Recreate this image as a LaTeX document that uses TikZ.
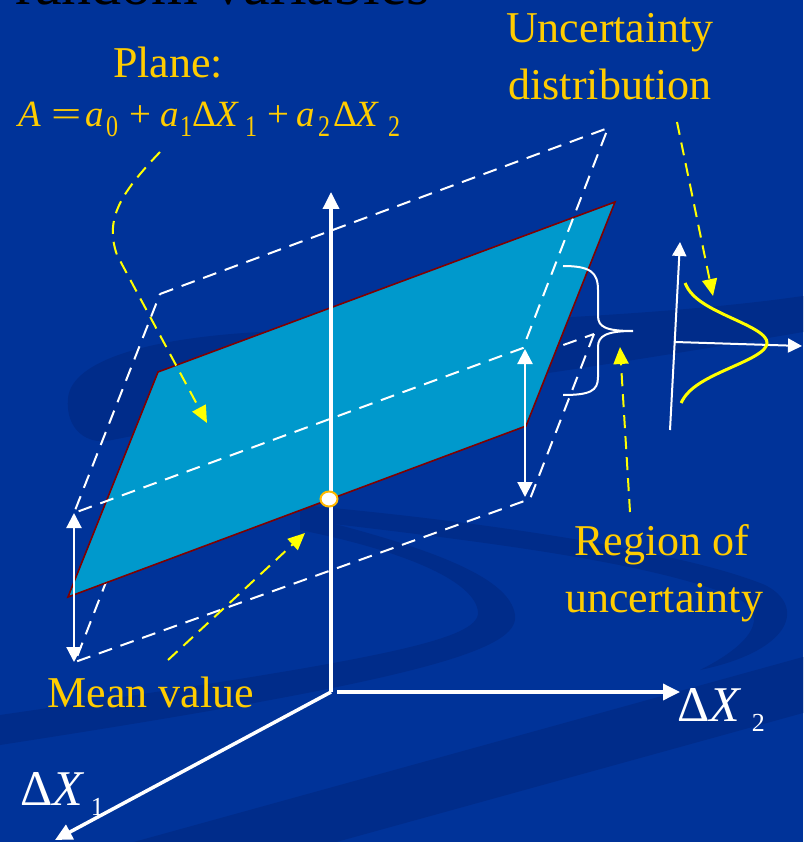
\documentclass[tikz,border=0pt]{standalone}
\usepackage{fontspec}
\usepackage{graphicx}
\setmainfont{Liberation Serif}
\usetikzlibrary{arrows.meta}
\definecolor{bg}{RGB}{0,51,153}
\definecolor{bgdark}{RGB}{0,44,138}
\definecolor{planefill}{RGB}{0,153,204}
\definecolor{planeedge}{RGB}{128,0,0}
\definecolor{ytext}{RGB}{255,204,0}
\definecolor{yarrow}{RGB}{255,255,0}
\definecolor{gold}{RGB}{255,185,0}
\newcommand{\eqat}[2]{\rlap{\hspace{#1pt}#2}}
\newcommand{\eqsub}[1]{\raisebox{-10pt}{\scalebox{0.8}[1]{\fontsize{30}{30}\selectfont #1}}}
\newcommand{\axsub}[1]{\raisebox{-10pt}{\fontsize{26}{26}\selectfont #1}}
\begin{document}
\begin{tikzpicture}[x=1pt,y=-1pt,
  wdash/.style={white, line width=2pt, dash pattern=on 14pt off 9pt},
  ydasharrow/.style={yarrow, line width=2pt, dash pattern=on 13pt off 8pt, -{Triangle[width=15pt,length=17pt]}},
  axisarrow/.style={white, line width=3.5pt, -{Triangle[width=16pt,length=17pt]}},
  dblarrow/.style={white, line width=2.2pt, {Triangle[width=15pt,length=15pt]}-{Triangle[width=15pt,length=15pt]}},
  chartarrow/.style={white, line width=2pt, -{Triangle[width=14pt,length=14pt]}},
  swoosh/.style={bgdark},
  ylabel/.style={text=ytext, font=\fontsize{44}{50}\selectfont, inner sep=0pt, anchor=base},
  wlabel/.style={text=white, font=\fontsize{50}{56}\selectfont, inner sep=0pt, anchor=base west}
]
\useasboundingbox (0,0) rectangle (803,842);
% background
\fill[bg] (0,0) rectangle (803,842);
\begin{scope}
\clip (0,0) rectangle (803,842);
\fill[swoosh] (803,296) .. controls (650,318) and (450,322) .. (260,332)
   .. controls (150,338) and (72,360) .. (68,398)
   .. controls (65,430) and (88,446) .. (112,440)
   .. controls (260,410) and (480,388) .. (803,332) -- cycle;
\fill[swoosh] (300,505) .. controls (470,520) and (680,550) .. (765,585)
   .. controls (805,605) and (795,650) .. (700,670)
   .. controls (760,640) and (770,610) .. (730,595)
   .. controls (640,560) and (470,540) .. (300,520) -- cycle;
\fill[swoosh] (300,515) .. controls (420,545) and (510,575) .. (515,615)
   .. controls (520,650) and (420,680) .. (0,745) -- (0,715)
   .. controls (380,660) and (480,640) .. (478,612)
   .. controls (475,580) and (400,550) .. (300,530) -- cycle;
\fill[swoosh] (0,879) -- (803,657) -- (803,713) -- (0,935) -- cycle;
\end{scope}

% title remnant
\node[anchor=base west, inner sep=0pt, text=black, font=\fontsize{60}{66}\selectfont] (title) at (15,5) {random variables};

% lower dashed plane (behind)
\coordinate (lTL) at (139,497);
\coordinate (lTR) at (594,334);
\coordinate (lBR) at (530,499);
\coordinate (lBL) at (75,662);
\draw[wdash] (lTR) -- (lBR) -- (lBL) -- (lTL) -- cycle;

% plane
\coordinate (pTL) at (158,372);
\coordinate (pTR) at (615,202);
\coordinate (pBR) at (526,426);
\coordinate (pBL) at (68,597);
\fill[planefill] (pTL) -- (pTR) -- (pBR) -- (pBL) -- cycle;
\draw[planeedge, line width=1.6pt, line join=miter] (pTL) -- (pTR) -- (pBR) -- (pBL) -- cycle;

% upper dashed plane (in front)
\coordinate (uTL) at (160,294);
\coordinate (uTR) at (608,128);
\coordinate (uBR) at (523,348);
\coordinate (uBL) at (74,513);
\draw[wdash] (uTL) -- (uTR) -- (uBR) -- (uBL) -- cycle;

% axes
\coordinate (O) at (331,692);
\coordinate (Zt) at (331,192);
\coordinate (Xs) at (337,692);
\coordinate (Xt) at (680,692);
\coordinate (Yt) at (55,840);
\draw[axisarrow] (O) -- (Zt);
\draw[axisarrow] (Xs) -- (Xt);
\draw[axisarrow] (O) -- (Yt);

% double arrows
\coordinate (la) at (74,513);
\coordinate (lb) at (74,662);
\coordinate (ra) at (525,349);
\coordinate (rb) at (525,497);
\draw[dblarrow] (la) -- (lb);
\draw[dblarrow] (ra) -- (rb);

% mean value point
\draw[fill=white, draw=gold, line width=2pt] (329,499) ellipse (8.5 and 7.5);

% brace
\draw[white, line width=2pt] (563,266) .. controls (590,266) and (598,272) .. (598,290)
  -- (598,316) .. controls (598,327) and (606,331) .. (633,331)
  .. controls (606,331) and (598,336) .. (598,347)
  -- (598,377) .. controls (598,391) and (590,395) .. (563,395);

% small distribution chart
\coordinate (cv0) at (670,430);
\coordinate (cv1) at (680,242);
\coordinate (ch0) at (675,342);
\coordinate (ch1) at (802,346);
\draw[chartarrow] (cv0) -- (cv1);
\draw[chartarrow] (ch0) -- (ch1);
\draw[yarrow, line width=3pt] plot[smooth, domain=-1:1, samples=41]
  ({679 - 2*\x + 88*exp(-1*(1.75*\x)*(1.75*\x))}, {343 + 60*\x});

% labels
\node[ylabel] (plane) at (168,78) {Plane:};
\node[anchor=base west, inner sep=0pt, text=ytext, font=\fontsize{37}{40}\selectfont] (eq) at (18,127)
  {\makebox[382pt][l]{\eqat{0}{\itshape A}\eqat{33}{\scalebox{1.45}[1]{=}}\eqat{67}{\itshape a}\eqat{88}{\eqsub{0}}%
   \eqat{111}{\scalebox{1.05}[1]{+}}\eqat{142}{\itshape a}\eqat{162}{\eqsub{1}}\eqat{174}{Δ}\eqat{197}{\itshape X}\eqat{227}{\eqsub{1}}%
   \eqat{249}{\scalebox{1.05}[1]{+}}\eqat{278}{\itshape a}\eqat{300}{\eqsub{2}}\eqat{315}{Δ}\eqat{337}{\itshape X}\eqat{370}{\eqsub{2}}}};
\node[ylabel] (unc1) at (610,43) {Uncertainty};
\node[ylabel] (unc2) at (610,100) {distribution};
\node[ylabel] (reg1) at (662,555) {Region of};
\node[ylabel] (reg2) at (664,612) {uncertainty};
\node[ylabel] (mean) at (151,707) {Mean value};
\node[wlabel] (dx1) at (20,805) {Δ\itshape X\upshape\hspace{8pt}\axsub{1}};
\node[wlabel] (dx2) at (677,721) {Δ\itshape X\upshape\hspace{12pt}\axsub{2}};

% yellow dashed pointers
\coordinate (p1s) at (160,152);
\coordinate (p1e) at (207,423);
\draw[ydasharrow] (p1s) .. controls (122,192) and (104,218) .. (117,255) -- (p1e);
\coordinate (p2s) at (677,122);
\coordinate (p2e) at (713,296);
\draw[ydasharrow] (p2s) -- (p2e);
\coordinate (p3s) at (630,512);
\coordinate (p3e) at (620,347);
\draw[ydasharrow] (p3s) -- (p3e);
\coordinate (p4s) at (168,660);
\coordinate (p4e) at (305,533);
\draw[ydasharrow] (p4s) -- (p4e);
\end{tikzpicture}
\end{document}
